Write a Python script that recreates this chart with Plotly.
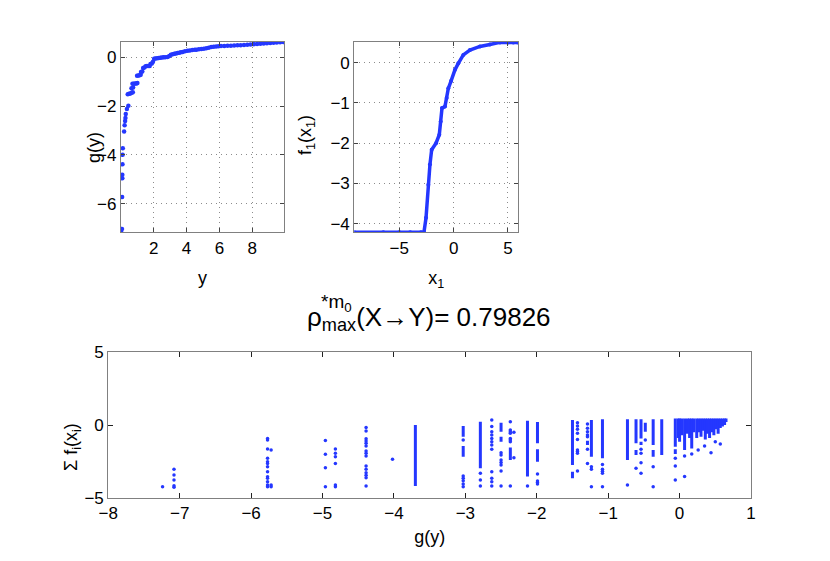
import plotly.graph_objects as go

# --- top left: g(y) against y ---
gy_y = [0.02, 0.06, 0.07, 0.08, 0.08, 0.09, 0.1, 0.11, 0.19, 0.22, 0.25, 0.27, 0.29, 0.36, 0.45,
        0.41, 0.49, 0.57, 0.65, 0.72, 0.64, 0.74, 0.7, 0.78, 0.86, 0.94, 1.0, 0.98, 1.06, 1.14, 1.2,
        1.22, 1.3, 1.35, 1.43, 1.5, 1.58, 1.66, 1.75, 1.8, 1.88, 1.95, 2.02, 2.1, 2.2, 2.3, 2.4, 2.5,
        2.6, 2.7, 2.84, 2.95, 3.04, 3.15, 3.25, 3.35, 3.45, 3.55, 3.65, 3.76, 3.9, 4.06, 4.2, 4.35,
        4.5, 4.6, 4.75, 4.9, 5.05, 5.2, 5.35, 5.5, 5.65, 5.8, 5.95, 6.1, 6.3, 6.5, 6.7, 6.9, 7.1,
        7.3, 7.5, 7.7, 7.9, 8.1, 8.3, 8.5, 8.7, 8.9, 9.1, 9.3, 9.5, 9.7, 9.9]
gy_g = [-7.19, -7.04, -5.73, -4.96, -4.82, -4.39, -4.0, -3.73, -3.04, -2.79, -2.61, -2.49, -2.33, -2.12, -1.99,
        -1.51, -1.49, -1.48, -1.45, -1.43, -1.27, -1.24, -1.08, -1.08, -1.07, -1.07, -1.05, -0.75, -0.74, -0.73, -0.71,
        -0.6, -0.58, -0.44, -0.42, -0.37, -0.36, -0.35, -0.35, -0.27, -0.25, -0.18, -0.06, -0.05, -0.04, -0.03, -0.02, -0.01,
        0.0, 0.0, 0.01, 0.06, 0.11, 0.13, 0.15, 0.16, 0.18, 0.19, 0.21, 0.22, 0.25, 0.27, 0.28, 0.3,
        0.31, 0.31, 0.33, 0.34, 0.35, 0.37, 0.39, 0.42, 0.44, 0.45, 0.46, 0.47, 0.47, 0.48, 0.48, 0.49, 0.5,
        0.5, 0.51, 0.52, 0.53, 0.54, 0.55, 0.56, 0.57, 0.58, 0.59, 0.6, 0.61, 0.62, 0.63]

# --- top right: f1(x1) against x1 ---
f1_x = [-9.14, -6.47, -5.0, -4.0, -3.0, -2.73, -2.54, -2.33, -2.18, -2.02, -1.62, -1.32, -1.19, -1.07,
        -0.8, -0.64, -0.49, -0.24, 0.12, 0.43, 0.89, 1.5, 2.42, 3.34, 4.26, 5.0, 5.49, 5.9]
f1_y = [-4.21, -4.21, -4.21, -4.21, -4.21, -4.21, -3.85, -3.03, -2.53, -2.16, -2.0, -1.79, -1.46, -1.13,
        -1.09, -0.88, -0.64, -0.46, -0.18, -0.02, 0.19, 0.31, 0.40, 0.45, 0.50, 0.50, 0.50, 0.50]

# --- bottom: sum f_i(x_i) against g(y) ---
# dense columns drawn as short vertical runs
seg_g = [-3.7, -3.03, -3.03, -2.79, -2.5, -2.5, -2.37, -2.13, -1.99, -1.99, -1.5, -1.5, -1.29, -1.235,
         -1.08, -0.73, -0.61, -0.61, -0.54, -0.54, -0.48, -0.37, -0.37, -0.25, -0.06, -0.06, -0.02, 0.0,
         0.03, 0.07, 0.11, 0.14, 0.17, 0.2, 0.24, 0.27, 0.3, 0.33, 0.36, 0.39, 0.42, 0.45, 0.48, 0.51,
         0.54, 0.57, 0.6, 0.63, 0.65]
seg_top = [0.0, -0.07, -1.44, 0.23, 0.16, -0.8, -1.54, 0.3, 0.21, -1.67, 0.34, -3.21, -1.08, 0.34,
           0.4, 0.4, 0.4, -1.72, 0.4, -1.15, 0.16, 0.4, -1.72, 0.4, 0.45, -1.67, 0.45, 0.45,
           0.45, 0.45, 0.45, 0.45, 0.45, 0.45, 0.45, 0.45, 0.45, 0.45, 0.45, 0.45, 0.45, 0.45, 0.45, 0.45,
           0.45, 0.45, 0.45, 0.45, 0.45]
seg_bot = [-4.2, -0.8, -2.18, -2.98, -0.46, -1.15, -2.41, -3.55, -1.26, -2.52, -2.75, -3.67, -1.38, -2.18,
           -2.29, -2.41, -1.26, -2.06, -0.92, -1.38, -0.46, -1.38, -2.18, -2.06, -1.49, -1.99, -0.9, -1.15,
           -0.7, -1.72, -0.6, -0.9, -1.62, -0.5, -0.9, -0.5, -0.8, -0.4, -1.0, -0.6, -0.9, -0.5, -0.7, -0.3,
           -0.6, -0.2, -0.1, 0.0, 0.2]

# single points, grouped by g(y) value
col_g = [-7.24, -7.08, -5.77, -5.72, -4.96, -4.82, -4.39, -4.02, -3.03, -2.79, -2.63, -2.5, -2.37, -2.32,
         -2.13, -1.99, -1.43, -1.29, -1.235, -1.08, -0.73, -0.61, -0.54, -0.48, -0.37, -0.06, 0.07, 0.17,
         0.26, 0.35, 0.44, 0.5, 0.57]
col_f = [[-4.24],
         [-3.05, -3.44, -3.78, -4.17, -4.28],
         [-0.92, -1.03, -1.65, -2.29, -2.52, -2.64, -2.87, -3.21, -3.56, -3.67, -3.9, -4.13, -4.24],
         [-1.72, -4.13, -4.24],
         [-1.07, -2.02, -2.94, -4.24],
         [-1.65, -1.95, -2.18, -2.64, -4.13, -4.24],
         [-0.18, -0.41, -0.94, -1.1, -1.26, -1.44, -1.79, -1.95, -2.13, -2.82, -3.05, -3.28, -3.46, -3.62, -4.2],
         [-2.36],
         [-1.03, -3.51, -3.67, -3.83, -4.06, -4.24],
         [-3.32, -3.78, -4.2],
         [0.34, -0.11, -0.46, -0.69, -0.92, -1.15, -1.38, -1.67, -3.21, -3.67, -3.9, -4.2],
         [-1.9, -2.06, -2.41, -2.58, -2.75, -3.16, -4.2],
         [0.23, -0.34, -0.46, -0.57, -0.92, -1.03, -1.15, -4.2],
         [-0.5, -2.25],
         [-4.2],
         [-3.37, -3.85, -3.95, -4.06],
         [0.16, -0.07, -0.3, -0.57, -0.99, -1.72, -1.83, -1.95, -3.16],
         [0.07, -0.23, -0.46, -0.69, -0.8, -1.67, -2.64],
         [-2.87, -3.05, -4.24],
         [-2.71, -3.05, -3.18, -3.32, -4.24],
         [-4.13],
         [-2.98],
         [-1.67, -1.95, -2.59, -3.32],
         [-1.03],
         [-2.87, -4.24],
         [-2.29, -2.82, -3.78],
         [-2.13, -3.55],
         [-1.99],
         [-1.72],
         [-1.44],
         [-1.9],
         [-1.15],
         [-1.31]]

title_value = 0.79826

blue = "#2437ff"
font_family = "Liberation Sans, Arial, sans-serif"

pt_g, pt_f = [], []
for g, fs in zip(col_g, col_f):
    for f in fs:
        pt_g.append(g)
        pt_f.append(f)

run_x, run_y = [], []
for g, t, b in zip(seg_g, seg_top, seg_bot):
    run_x += [g, g, None]
    run_y += [t, b, None]

# the page body adds an 8px offset, so place things relative to screen pixels minus 8
W, H, OFF = 830, 561, 8


def px(x):
    return (x - OFF) / W


def py(y):
    return 1 - (y - OFF) / H


fig = go.Figure()

fig.add_trace(go.Scatter(x=gy_y, y=gy_g, mode="markers", xaxis="x", yaxis="y",
                         marker=dict(color=blue, size=4.5), showlegend=False))
fig.add_trace(go.Scatter(x=f1_x, y=f1_y, mode="lines+markers", xaxis="x2", yaxis="y2",
                         line=dict(color=blue, width=3.5), marker=dict(color=blue, size=4),
                         showlegend=False))
fig.add_trace(go.Scatter(x=run_x, y=run_y, mode="lines", xaxis="x3", yaxis="y3",
                         line=dict(color=blue, width=3), showlegend=False))
fig.add_trace(go.Scatter(x=pt_g, y=pt_f, mode="markers", xaxis="x3", yaxis="y3",
                         marker=dict(color=blue, size=3.5), showlegend=False))

tick_font = dict(family=font_family, size=17, color="black")
label_font = dict(family=font_family, size=18, color="black")

grid_axis = dict(showline=True, mirror="ticks", linecolor="#808080", linewidth=1.2,
                 ticks="inside", ticklen=4, tickcolor="#444444", automargin=False,
                 showgrid=True, gridcolor="#8c8c8c", griddash="1px,4px", gridwidth=1,
                 zeroline=False, tickfont=tick_font)
plain_axis = dict(showline=True, mirror="ticks", linecolor="#808080", linewidth=1.2,
                  ticks="inside", ticklen=5, tickcolor="#222222", automargin=False,
                  showgrid=False, zeroline=False, tickfont=tick_font)

fig.update_layout(
    template="none",
    width=W, height=H,
    margin=dict(l=0, r=0, t=0, b=0),
    paper_bgcolor="white", plot_bgcolor="white",
    font=dict(family=font_family, color="black"),
    xaxis=dict(grid_axis, domain=[px(121), px(284)], range=[0.0, 9.94],
               tickvals=[2, 4, 6, 8], anchor="y",
               title=dict(text="y", font=label_font, standoff=14)),
    yaxis=dict(grid_axis, domain=[py(232.3), py(42)], range=[-7.18, 0.63],
               tickvals=[-6, -4, -2, 0], anchor="x"),
    xaxis2=dict(grid_axis, domain=[px(354.3), px(518.3)], range=[-9.14, 5.95],
                tickvals=[-5, 0, 5], anchor="y2",
                title=dict(text="x<sub>1</sub>", font=label_font, standoff=14)),
    yaxis2=dict(grid_axis, domain=[py(232.3), py(42)], range=[-4.21, 0.51],
                tickvals=[-4, -3, -2, -1, 0], anchor="x2"),
    xaxis3=dict(plain_axis, domain=[px(108.3), px(751)], range=[-8, 1],
                tickvals=list(range(-8, 2)), anchor="y3",
                title=dict(text="g(y)", font=label_font, standoff=8)),
    yaxis3=dict(plain_axis, domain=[py(497.7), py(352.3)], range=[-5, 5],
                tickvals=[-5, 0, 5], anchor="x3"),
)

# y-axis labels
for text, x, y in [("g(y)", 94, 148),
                   ("f<sub>1</sub>(x<sub>1</sub>)", 307, 135),
                   ("Σ f<sub>i</sub>(x<sub>i</sub>)", 73, 447)]:
    fig.add_annotation(x=px(x), y=py(y), xref="paper", yref="paper", textangle=-90,
                       xanchor="center", yanchor="middle", showarrow=False,
                       font=label_font, text=text)

# title
fig.add_annotation(x=px(305), y=py(318), xref="paper", yref="paper", xanchor="left", yanchor="middle",
                   showarrow=False, font=dict(family=font_family, size=26, color="black"),
                   text="ρ<sub>max</sub>(X→Y)= %.5f" % title_value)
fig.add_annotation(x=px(319), y=py(303), xref="paper", yref="paper", xanchor="left", yanchor="middle",
                   showarrow=False, font=dict(family=font_family, size=19, color="black"),
                   text="*m<sub>0</sub>")

fig.write_html("out.html")
